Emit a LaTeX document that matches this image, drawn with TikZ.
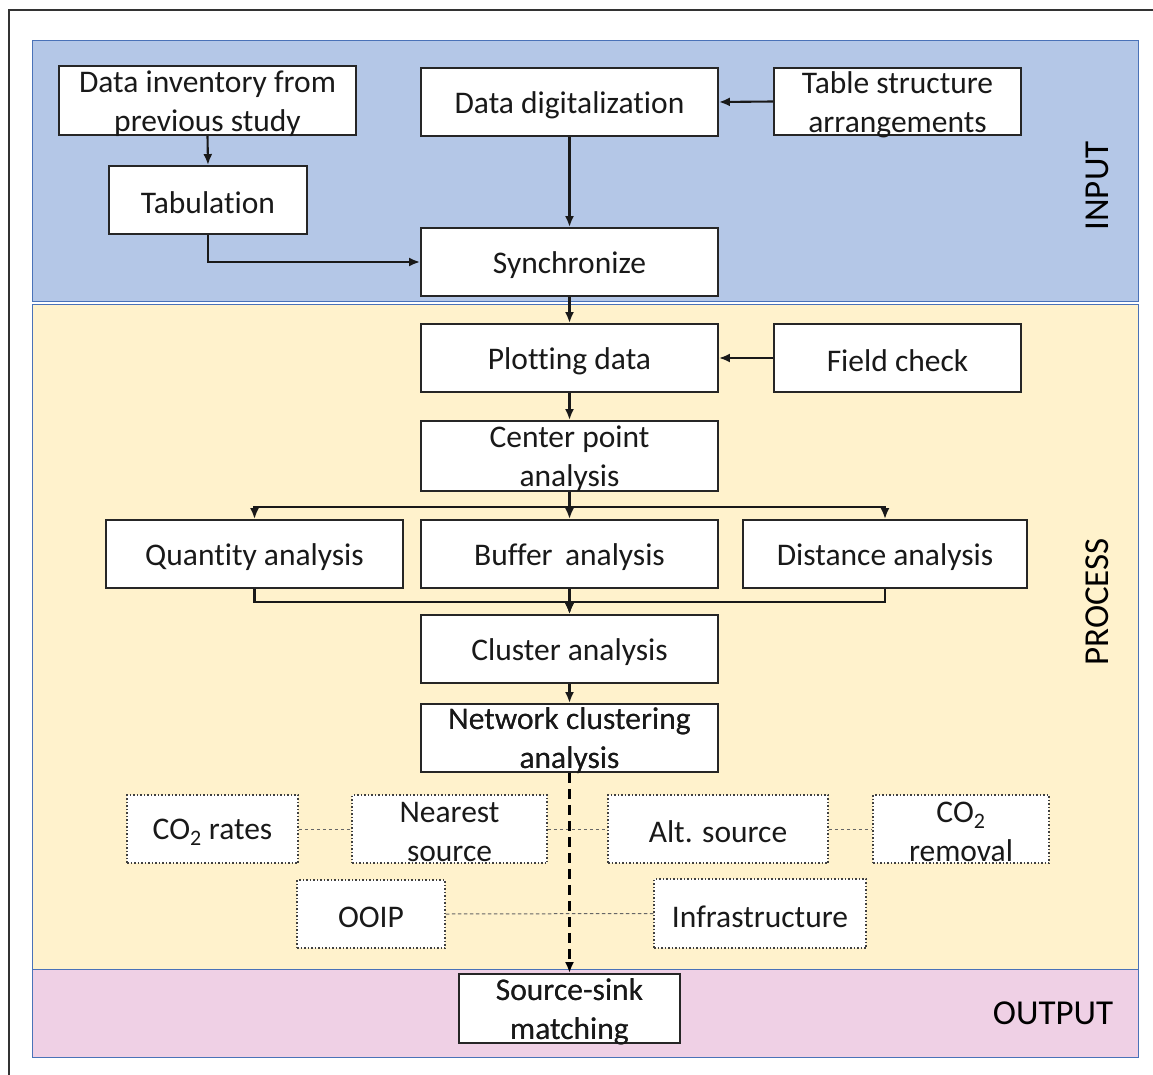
\documentclass[tikz,border=0pt]{standalone}
\usepackage{fontspec}
\setmainfont{Carlito}[Ligatures=NoCommon]
\usetikzlibrary{arrows.meta}
\definecolor{inblue}{HTML}{B4C7E7}
\definecolor{procyel}{HTML}{FFF2CC}
\definecolor{outpink}{HTML}{EFD0E5}
\definecolor{bandedge}{HTML}{4A72B8}
\newcommand\bx[6]{%
  \node[#1, minimum width=#4, minimum height=#5] (#2) at (#3) {};
  \node[txt] (#2-t) at (#2.center) {#6};}
\begin{document}
\begin{tikzpicture}[x=1pt,y=-1pt,
  font=\fontsize{31.5}{39}\selectfont,
  box/.style={draw=black!85, line width=1.9pt, fill=white, inner sep=0pt},
  dbox/.style={draw=black!75, line width=1.5pt, dotted, fill=white, inner sep=0pt},
  txt/.style={align=center, inner sep=0pt, text=black!90, yshift=-3pt},
  lab/.style={inner sep=0pt, text=black, font=\fontsize{35}{40}\selectfont},
  arr/.style={line width=2.1pt, draw=black!90, -{Latex[length=11pt,width=9pt]}},
  dlink/.style={draw=black!60, line width=1pt, dash pattern=on 3.5pt off 2.5pt},
  mainflow/.style={line width=2.8pt, draw=black, dash pattern=on 10pt off 6pt, -{Latex[length=11pt,width=9pt]}}]
\useasboundingbox (0,0) rectangle (1153,1075);
\fill[white] (0,0) rectangle (1153,1075);
% outer frame
\draw[black!80, line width=2.2pt] (9,1076) -- (9,10) -- (1154,10);
% bands
\draw[fill=inblue, draw=bandedge, line width=1pt] (32,41) rectangle (1138,301);
\draw[fill=procyel, draw=bandedge, line width=1pt] (32,304) rectangle (1138,969);
\draw[fill=outpink, draw=bandedge, line width=1pt] (32,969) rectangle (1138,1057);
% band labels
\node[rotate=90, lab] (lin) at (1097,186) {INPUT};
\node[rotate=90, lab] (lproc) at (1097,602) {PROCESS};
\node[lab] (lout) at (1053,1013) {OUTPUT};
% boxes
\bx{box}{inv}{207.5,100.5}{297pt}{69pt}{Data inventory from\\previous study}
\bx{box}{tab}{208,200}{198pt}{68pt}{Tabulation}
\bx{box}{dd}{569.5,102}{297pt}{68pt}{Data digitalization}
\bx{box}{tsa}{897.5,101.5}{247pt}{67pt}{Table structure\\arrangements}
\bx{box}{sync}{569.5,262}{297pt}{68pt}{Synchronize}
\bx{box}{plot}{569.5,358}{297pt}{68pt}{Plotting data}
\bx{box}{fc}{897.5,358}{247pt}{68pt}{Field check}
\bx{box}{cp}{569.5,456}{297pt}{70pt}{Center point\\analysis}
\bx{box}{qa}{254.5,554}{297pt}{68pt}{Quantity analysis}
\bx{box}{ba}{569.5,554}{297pt}{68pt}{Buffer\, analysis}
\bx{box}{da}{885,554}{284pt}{68pt}{Distance analysis}
\bx{box}{cl}{569.5,649}{297pt}{68pt}{Cluster analysis}
\bx{box}{net}{569.5,738}{297pt}{68pt}{Network clustering\\analysis}
\bx{dbox}{co2}{212.5,829}{171pt}{68pt}{CO\textsubscript{2} rates}
\bx{dbox}{near}{449.5,829}{195pt}{68pt}{Nearest\\source}
\bx{dbox}{alt}{718,829}{220pt}{68pt}{Alt. source}
\bx{dbox}{rem}{961,829}{176pt}{68pt}{CO\textsubscript{2}\\removal}
\bx{dbox}{ooip}{371,914}{148pt}{68pt}{OOIP}
\bx{dbox}{infra}{760,913.5}{212pt}{69pt}{Infrastructure}
\bx{box}{ss}{569.5,1008.5}{221pt}{69pt}{Source-sink\\matching}
% connectors
\draw[arr] (inv.south) -- (tab.north);
\draw[arr] (tab.south) |- (sync.west);
\draw[arr] (tsa.west) -- (dd.east);
\draw[arr] (dd.south) -- (sync.north);
\draw[arr] (sync.south) -- (plot.north);
\draw[arr] (fc.west) -- (plot.east);
\draw[arr] (plot.south) -- (cp.north);
\draw[arr] (cp.south) -- ++(0,15) -| (qa.north);
\draw[arr] (cp.south) -- ++(0,15) -| (da.north);
\draw[arr] (cp.south) -- (ba.north);
\draw[arr] (qa.south) -- ++(0,13) -| (cl.north);
\draw[arr] (da.south) -- ++(0,13) -| (cl.north);
\draw[arr] (ba.south) -- (cl.north);
\draw[arr] (cl.south) -- (net.north);
\draw[dlink] (co2.east) -- (near.west);
\draw[dlink] (near.east) -- (alt.west);
\draw[dlink] (alt.east) -- (rem.west);
\draw[dlink] (ooip.east) -- (infra.west);
\draw[mainflow] (net.south) -- (ss.north);
% redraw text over dashed line where it overlaps
\node[txt] (net-t2) at (net.center) {Network clustering\\analysis};
\node[txt] (ss-t2) at (ss.center) {Source-sink\\matching};
\end{tikzpicture}
\end{document}
